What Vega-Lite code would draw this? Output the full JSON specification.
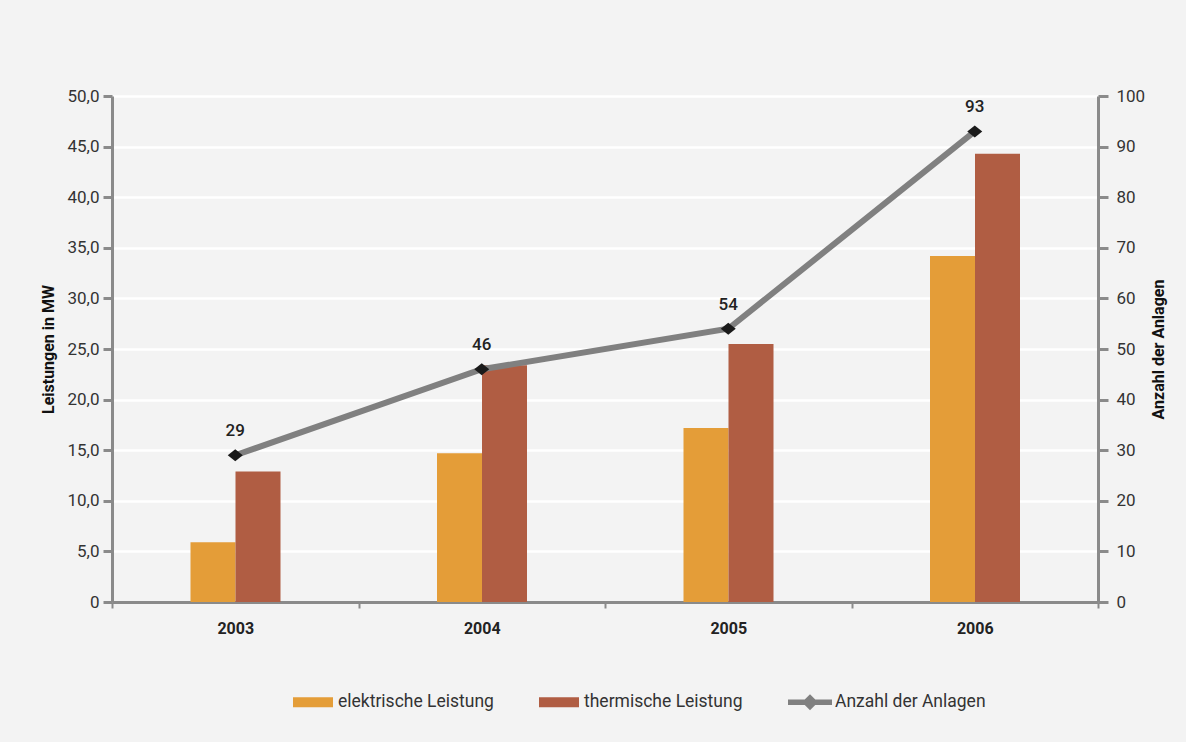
{
  "$schema": "https://vega.github.io/schema/vega-lite/v6.json",
  "width": 986,
  "height": 506,
  "autosize": {"type": "none"},
  "padding": {"left": 112, "top": 96, "right": 88, "bottom": 140},
  "background": "#f3f3f3",
  "config": {
    "view": {"stroke": null},
    "font": "Roboto",
    "axis": {"labelFont": "Roboto", "titleFont": "Roboto"},
    "legend": {"labelFont": "Roboto"}
  },
  "datasets": {
    "leistung": [
      {"jahr": "2003", "serie": "elektrische Leistung", "wert": 5.9},
      {"jahr": "2003", "serie": "thermische Leistung", "wert": 12.9},
      {"jahr": "2004", "serie": "elektrische Leistung", "wert": 14.7},
      {"jahr": "2004", "serie": "thermische Leistung", "wert": 23.4},
      {"jahr": "2005", "serie": "elektrische Leistung", "wert": 17.2},
      {"jahr": "2005", "serie": "thermische Leistung", "wert": 25.5},
      {"jahr": "2006", "serie": "elektrische Leistung", "wert": 34.2},
      {"jahr": "2006", "serie": "thermische Leistung", "wert": 44.3}
    ],
    "anlagen": [
      {"jahr": "2003", "anzahl": 29},
      {"jahr": "2004", "anzahl": 46},
      {"jahr": "2005", "anzahl": 54},
      {"jahr": "2006", "anzahl": 93}
    ]
  },
  "encoding": {
    "x": {
      "field": "jahr",
      "type": "nominal",
      "scale": {"paddingInner": 0, "paddingOuter": 0},
      "axis": {
        "title": null,
        "labelAngle": 0,
        "labelFontSize": 16,
        "labelFontWeight": "bold",
        "labelColor": "#222222",
        "labelPadding": 12,
        "tickBand": "extent",
        "tickSize": 6,
        "tickWidth": 2,
        "tickColor": "#8a8a8a",
        "domainColor": "#8a8a8a",
        "domainWidth": 3,
        "grid": false
      }
    }
  },
  "layer": [
    {
      "data": {"name": "leistung"},
      "mark": {"type": "bar"},
      "encoding": {
        "xOffset": {"field": "serie", "type": "nominal", "scale": {"paddingInner": 0, "paddingOuter": 0, "range": [78.5, 168.5]}},
        "y": {
          "field": "wert",
          "type": "quantitative",
          "scale": {"domain": [0, 50], "nice": false},
          "axis": {
            "title": "Leistungen in MW",
            "titleFontSize": 16,
            "titleFontWeight": "bold",
            "titleColor": "#111111",
            "titlePadding": 10,
            "values": [0, 5, 10, 15, 20, 25, 30, 35, 40, 45, 50],
            "labelExpr": "datum.value == 0 ? '0' : replace(format(datum.value, '.1f'), '.', ',')",
            "labelFontSize": 17,
            "labelColor": "#333333",
            "labelPadding": 4,
            "tickSize": 9,
            "tickWidth": 3,
            "tickColor": "#8a8a8a",
            "domainColor": "#8a8a8a",
            "domainWidth": 3,
            "grid": true,
            "gridColor": "#ffffff",
            "gridWidth": 2.5
          }
        },
        "color": {
          "field": "serie",
          "type": "nominal",
          "scale": {
            "domain": ["elektrische Leistung", "thermische Leistung", "Anzahl der Anlagen"],
            "range": ["#e49d38", "#b05d43", "#808080"]
          },
          "legend": {
            "orient": "none",
            "legendX": 181,
            "legendY": 586,
            "direction": "horizontal",
            "title": null,
            "labelFontSize": 17.5,
            "labelColor": "#333333",
            "labelOffset": 5,
            "columnPadding": 45,
            "symbolSize": 1600,
            "encode": {
              "symbols": {
                "update": {
                  "shape": {"signal": "datum.label === 'Anzahl der Anlagen' ? 'M-1.1,-0.14H1.1V0.14H-1.1Z M0,-0.4L0.4,0L0,0.4L-0.4,0Z' : 'M-1,-0.25H1V0.25H-1Z'"},
                  "stroke": {"value": "transparent"},
                  "strokeWidth": {"value": 0},
                  "opacity": {"value": 1},
                  "fillOpacity": {"value": 1}
                }
              }
            }
          }
        }
      }
    },
    {
      "data": {"name": "anlagen"},
      "encoding": {
        "y": {
          "field": "anzahl",
          "type": "quantitative",
          "scale": {"domain": [0, 100], "nice": false},
          "axis": {
            "orient": "right",
            "title": "Anzahl der Anlagen",
            "titleAngle": 270,
            "titleFontSize": 16,
            "titleFontWeight": "bold",
            "titleColor": "#111111",
            "titlePadding": 22,
            "values": [0, 10, 20, 30, 40, 50, 60, 70, 80, 90, 100],
            "labelFontSize": 17,
            "labelColor": "#333333",
            "labelPadding": 8,
            "tickSize": 10,
            "tickWidth": 3,
            "tickColor": "#8a8a8a",
            "domainColor": "#8a8a8a",
            "domainWidth": 3,
            "grid": false
          }
        }
      },
      "layer": [
        {
          "mark": {"type": "line", "strokeWidth": 6},
          "encoding": {"color": {"datum": "Anzahl der Anlagen", "type": "nominal"}}
        },
        {
          "mark": {"type": "point", "shape": "M-1,0L0,-0.8L1,0L0,0.8Z", "filled": true, "fill": "#1a1a1a", "size": 225, "opacity": 1},
          "encoding": {}
        },
        {
          "mark": {"type": "text", "dy": -24, "fontSize": 17, "fontWeight": 500, "color": "#222222"},
          "encoding": {"text": {"field": "anzahl", "type": "quantitative"}}
        }
      ]
    }
  ],
  "resolve": {"scale": {"y": "independent"}}
}
